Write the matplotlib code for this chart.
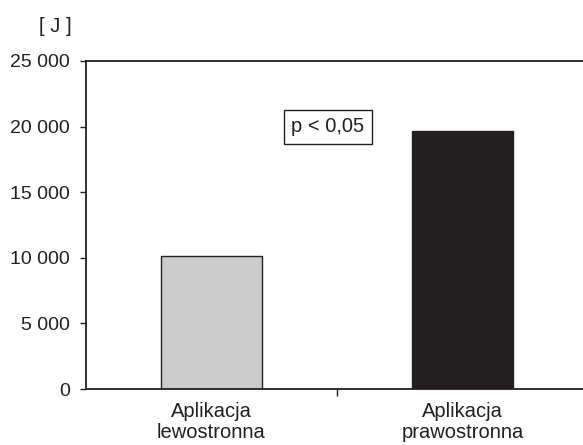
import matplotlib
matplotlib.use("Agg")
import matplotlib.pyplot as plt
from matplotlib.ticker import FuncFormatter

plt.rcParams['font.family'] = ['Liberation Sans', 'DejaVu Sans']

# Data
categories = ["Aplikacja\nlewostronna", "Aplikacja\nprawostronna"]
values = [10100, 19700]
bar_colors = ["#cccccc", "#231f20"]
y_ticks = [0, 5000, 10000, 15000, 20000, 25000]


def thousands(v, pos):
    # Polish style: space as thousands separator
    return f"{int(v):,}".replace(",", " ")


fig = plt.figure(figsize=(5.83, 4.45), dpi=100)
ax = fig.add_axes([86 / 583, 56 / 445, 502 / 583, 328 / 445])

ax.bar([0, 1], values, width=0.405, color=bar_colors,
       edgecolor="#231f20", linewidth=1.0, zorder=2)

ax.set_xlim(-0.5, 1.5)
ax.set_ylim(0, 25000)
ax.set_yticks(y_ticks)
ax.yaxis.set_major_formatter(FuncFormatter(thousands))

# one tick between the categories, labels set as text below
ax.set_xticks([0.5])
ax.set_xticklabels([""])
for i, name in enumerate(categories):
    ax.text(i, -1000, name, ha="center", va="top", fontsize=14.5,
            linespacing=1.1, color="#231f20")

for side in ["top", "left", "bottom"]:
    ax.spines[side].set_linewidth(1.3)
    ax.spines[side].set_color("#231f20")
ax.spines["right"].set_visible(False)

ax.tick_params(axis="y", direction="out", length=4.5, width=1.0,
               labelsize=14, pad=7, colors="#231f20")
ax.tick_params(axis="x", direction="out", length=5, width=1.0,
               colors="#231f20")

fig.text(55 / 583, 1 - 27 / 445, "[ J ]", fontsize=14.5,
         ha="center", va="center", color="#231f20")

ax.text(0.464, 19970, "p < 0,05", ha="center", va="center", fontsize=14.5,
        color="#231f20",
        bbox=dict(boxstyle="square,pad=0.35", facecolor="white",
                  edgecolor="#231f20", linewidth=1.0))

fig.savefig("out.png", dpi=100)
